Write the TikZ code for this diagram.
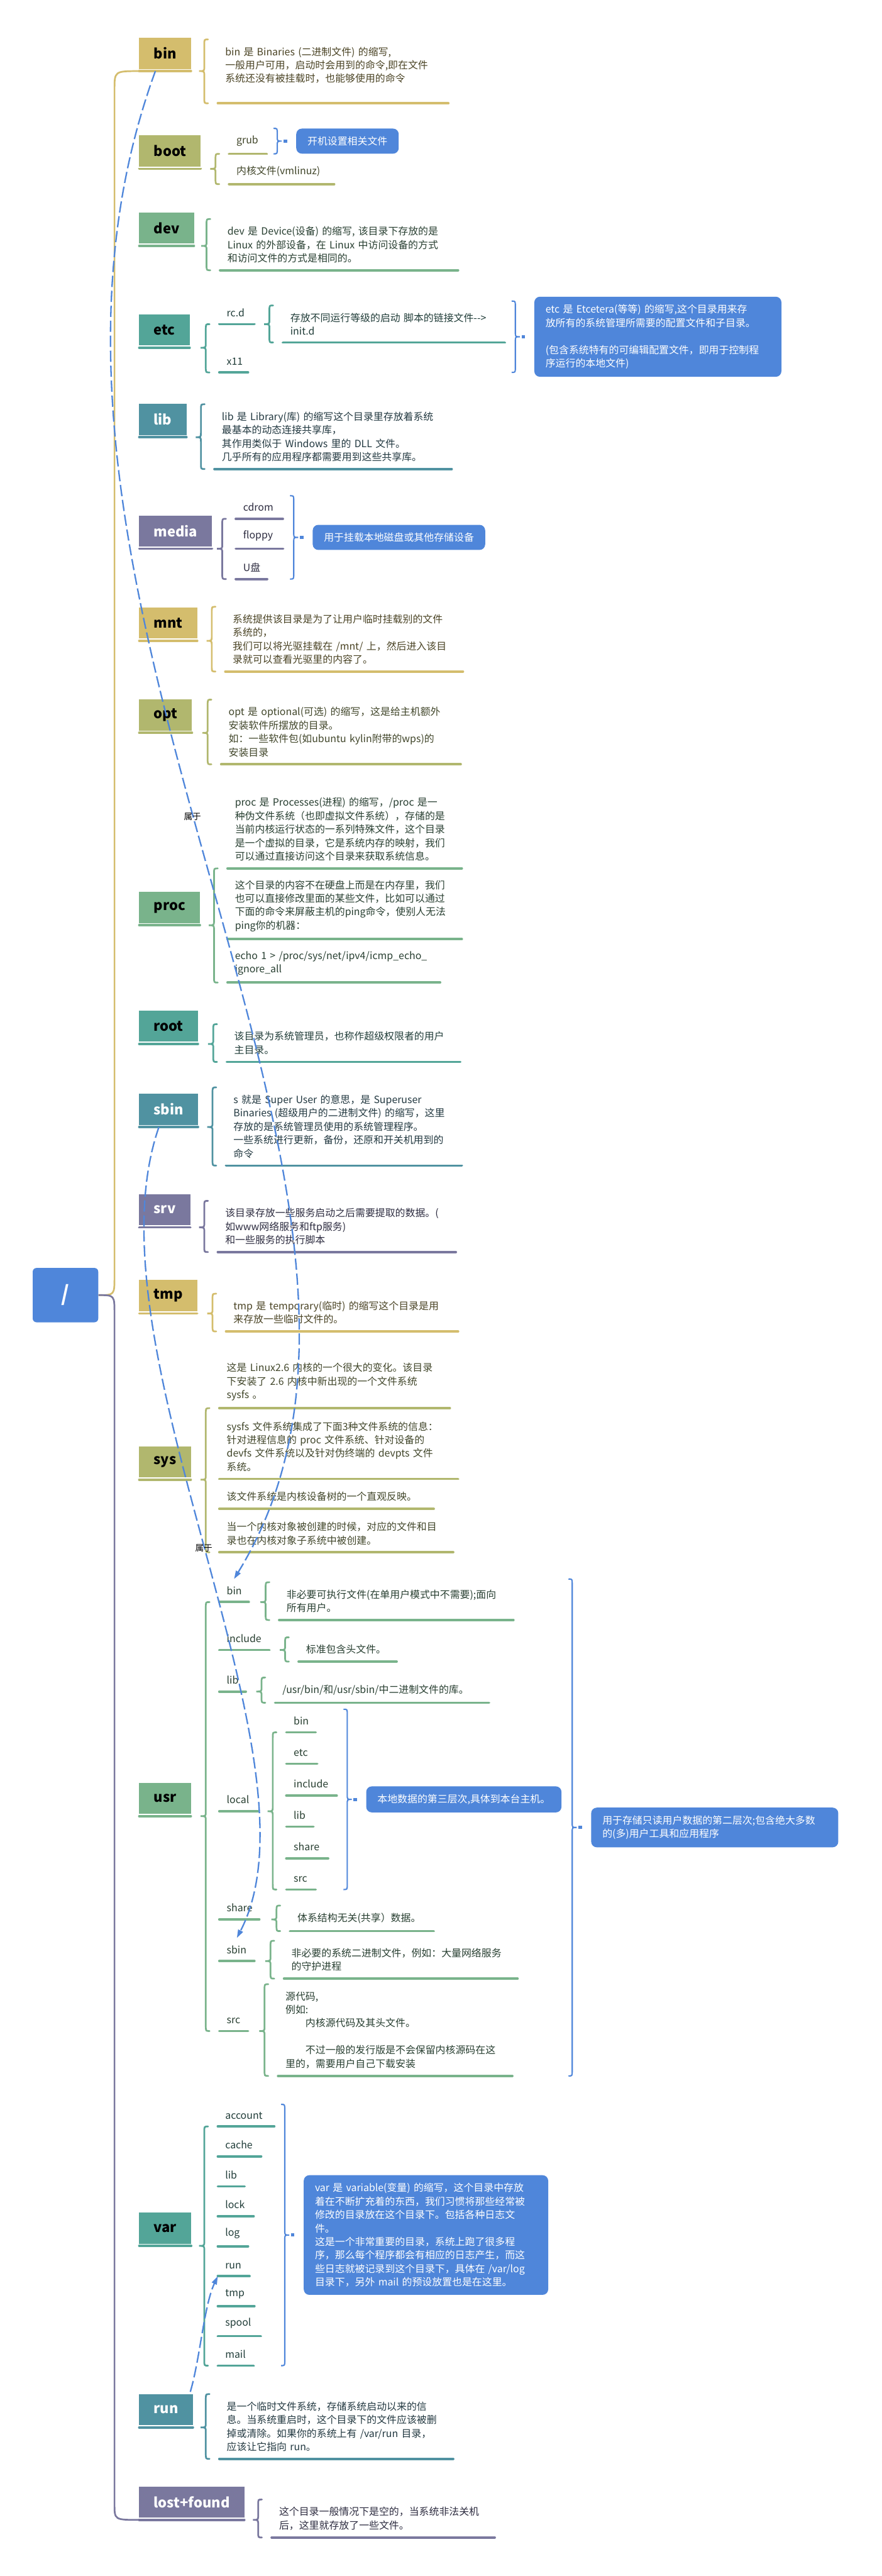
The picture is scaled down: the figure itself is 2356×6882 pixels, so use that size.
\documentclass[tikz,border=0pt]{standalone}
\usepackage{fontspec}
\setmainfont{Noto Sans CJK SC}
\usetikzlibrary{positioning,calc,arrows.meta}

\definecolor{cgold}{HTML}{D4BD6D}
\definecolor{colive}{HTML}{B1B76E}
\definecolor{cgreen}{HTML}{79B38B}
\definecolor{cteal}{HTML}{53A598}
\definecolor{cblue}{HTML}{5092A1}
\definecolor{cpurple}{HTML}{7A789E}
\definecolor{tgold}{HTML}{4A4324}
\definecolor{tolive}{HTML}{41462A}
\definecolor{tgreen}{HTML}{283F31}
\definecolor{tteal}{HTML}{213D39}
\definecolor{tblue}{HTML}{233941}
\definecolor{tpurple}{HTML}{2D2C40}
\definecolor{sumblue}{HTML}{4F86DA}

% left brace from a directory to its entries
\newcommand{\dirbrace}[4]{%
  \coordinate (bt) at ($(#3)+(-26,0)$);
  \coordinate (bb) at ($(#4)+(-26,0)$);
  \coordinate (bm) at (bt |- #2.south);
  \draw[bracel=#1] (bt) .. controls ($(bt)+(-10,0)$) .. ($(bt)+(-10,14)$)
    -- ($(bm)+(-10,-12)$) .. controls ($(bm)+(-10,0)$) .. ($(bm)+(-24,0)$)
    .. controls ($(bm)+(-10,0)$) .. ($(bm)+(-10,12)$)
    -- ($(bb)+(-10,-14)$) .. controls ($(bb)+(-10,0)$) .. (bb);
}

% blue summary brace with its note
\newcommand{\sumnote}[6]{%
  \coordinate (sx) at ($(#3)+(18,0)$);
  \coordinate (st) at (sx |- #1.north);
  \coordinate (sb) at (sx |- #2.south);
  \coordinate (sm) at ($(st)!0.5!(sb)$);
  \draw[sumline] (st) .. controls ($(st)+(10,0)$) .. ($(st)+(10,14)$)
    -- ($(sm)+(10,-12)$) .. controls ($(sm)+(10,0)$) .. ($(sm)+(22,0)$)
    .. controls ($(sm)+(10,0)$) .. ($(sm)+(10,12)$)
    -- ($(sb)+(10,-14)$) .. controls ($(sb)+(10,0)$) .. (sb);
  \fill[sumblue] ($(sm)+(27,-4)$) rectangle ++(9,8);
  \node[sumbox, #5] (#4) at ($(sm)+(60,0)$) {#6};
}

\begin{document}
\begin{tikzpicture}[x=0.01cm, y=-0.01cm,
    dirbox/.style={anchor=south west, fill=c#1, minimum height=0.83cm, inner xsep=0.39cm, inner ysep=0pt,
        outer xsep=0pt, outer ysep=0.06cm, font=\fontsize{10.5}{12}\selectfont\bfseries,
        append after command={(\tikzlastnode.south west) edge[barline=#1] (\tikzlastnode.south east)}},
    leaf/.style={anchor=south west, align=left, inner xsep=0.2cm, inner ysep=0.2cm, outer sep=0pt,
        text=t#1, font=\fontsize{7.6}{10.24}\selectfont,
        append after command={(\tikzlastnode.south west) edge[barline=#1] (\tikzlastnode.south east)}},
    barline/.style={draw=c#1, line width=1.8pt, line cap=round},
    bracel/.style={draw=c#1, line width=1.3pt, line cap=round},
    trunk/.style={draw=c#1, line width=1.3pt},
    sumline/.style={draw=sumblue, line width=1pt},
    sumbox/.style={anchor=west, fill=sumblue, rounded corners=0.15cm, text=white, align=left,
        inner xsep=0.3cm, inner ysep=0.21cm, font=\fontsize{7.6}{10.24}\selectfont},
    rel/.style={draw=sumblue, line width=1.1pt, dash pattern=on 0.3cm off 0.1cm,
        -{Triangle[length=0.22cm,width=0.14cm]}},
    rellabel/.style={font=\fontsize{6.5}{7}\selectfont, text=black},
    light/.style={text=white}
]
\useasboundingbox (0,0) rectangle (2356,6882);

% root
\node[fill=sumblue, text=white, rounded corners=0.1cm, minimum width=1.75cm, minimum height=1.45cm,
    font=\fontsize{16}{18}\selectfont\bfseries] (top) at (175,3460) {/};

% directories
\node[dirbox=gold] (bin) at (372,190) {bin};
\node[dirbox=olive] (boot) at (372,451) {boot};
\node[dirbox=green] (dev) at (372,657) {dev};
\node[dirbox=teal] (etc) at (372,929) {etc};
\node[dirbox=blue, light] (lib) at (372,1168) {lib};
\node[dirbox=purple, light] (media) at (372,1466) {media};
\node[dirbox=gold] (mnt) at (372,1712) {mnt};
\node[dirbox=olive] (opt) at (372,1958) {opt};
\node[dirbox=green] (proc) at (372,2472) {proc};
\node[dirbox=teal] (root) at (372,2789) {root};
\node[dirbox=blue, light] (sbin) at (372,3011) {sbin};
\node[dirbox=purple, light] (srv) at (372,3279) {srv};
\node[dirbox=gold] (tmp) at (372,3509) {tmp};
\node[dirbox=olive] (sys) at (372,3953) {sys};
\node[dirbox=green] (usr) at (372,4852) {usr};
\node[dirbox=teal] (var) at (372,6000) {var};
\node[dirbox=blue, light] (run) at (372,6485) {run};
\node[dirbox=purple, light] (lostfound) at (372,6732) {lost+found};

% trunk
\draw[trunk=gold] (bin.south west) .. controls (306,190) .. (306,240) -- (306,3410) .. controls (306,3460) .. (top.east);
\draw[trunk=purple] (top.east) .. controls (306,3460) .. (306,3510) -- (306,6690) .. controls (306,6732) .. (lostfound.south west);

% bin
\node[leaf=gold, text width=5.76cm] (binA) at (582,276) {bin 是 Binaries (二进制文件) 的缩写,\\一般用户可用，启动时会用到的命令,即在文件\\系统还没有被挂载时，也能够使用的命令\\\mbox{}};
\dirbrace{gold}{bin}{binA.north west}{binA.south west}

% boot
\node[leaf=olive, text width=0.61cm] (bootA) at (612,411) {grub};
\node[leaf=olive, text width=2.41cm] (bootB) at (612,492) {内核文件(vmlinuz)};
\dirbrace{olive}{boot}{bootA.south west}{bootB.south west}
\sumnote{bootA}{bootA}{bootA.east}{bootS}{}{开机设置相关文件}

% dev
\node[leaf=green, text width=5.96cm] (devA) at (588,722) {dev 是 Device(设备) 的缩写, 该目录下存放的是\\Linux 的外部设备，在 Linux 中访问设备的方式\\和访问文件的方式是相同的。};
\dirbrace{green}{dev}{devA.north west}{devA.south west}

% etc
\node[leaf=teal, text width=0.54cm] (etcA) at (586,866) {rc.d};
\node[leaf=teal, text width=0.37cm] (etcB) at (586,995) {x11};
\node[leaf=teal, text width=5.53cm] (rcdA) at (756,915) {存放不同运行等级的启动 脚本的链接文件-{}-{}>\\init.d};
\dirbrace{teal}{etc}{etcA.south west}{etcB.south west}
\dirbrace{teal}{etcA}{rcdA.north west}{rcdA.south west}
\sumnote{etcA}{etcB}{rcdA.east}{etcS}{text width=6.0cm}{etc 是 Etcetera(等等) 的缩写,这个目录用来存\\放所有的系统管理所需要的配置文件和子目录。\\\mbox{}\\(包含系统特有的可编辑配置文件，即用于控制程\\序运行的本地文件)}

% lib
\node[leaf=blue, text width=5.94cm] (libA) at (573,1253) {lib 是 Library(库) 的缩写这个目录里存放着系统\\最基本的动态连接共享库，\\其作用类似于 Windows 里的 DLL 文件。\\几乎所有的应用程序都需要用到这些共享库。};
\dirbrace{blue}{lib}{libA.north west}{libA.south west}

% media
\node[leaf=purple, text width=0.86cm] (mediaA) at (630,1386) {cdrom};
\node[leaf=purple, text width=0.87cm] (mediaB) at (630,1466) {floppy};
\node[leaf=purple, text width=0.44cm] (mediaC) at (630,1547) {U盘};
\dirbrace{purple}{media}{mediaA.south west}{mediaC.south west}
\sumnote{mediaA}{mediaC}{mediaB.east}{mediaS}{}{用于挂载本地磁盘或其他存储设备}

% mnt
\node[leaf=gold, text width=5.95cm] (mntA) at (602,1794) {系统提供该目录是为了让用户临时挂载别的文件\\系统的，\\我们可以将光驱挂载在 /mnt/ 上，然后进入该目\\录就可以查看光驱里的内容了。};
\dirbrace{gold}{mnt}{mntA.north west}{mntA.south west}

% opt
\node[leaf=olive, text width=6.0cm] (optA) at (591,2042) {opt 是 optional(可选) 的缩写，这是给主机额外\\安装软件所摆放的目录。\\如：一些软件包(如ubuntu kylin附带的wps)的\\安装目录};
\dirbrace{olive}{opt}{optA.north west}{optA.south west}

% proc
\node[leaf=green, text width=5.86cm] (procA) at (608,2320) {proc 是 Processes(进程) 的缩写，/proc 是一\\种伪文件系统（也即虚拟文件系统），存储的是\\当前内核运行状态的一系列特殊文件，这个目录\\是一个虚拟的目录，它是系统内存的映射，我们\\可以通过直接访问这个目录来获取系统信息。};
\node[leaf=green, text width=5.86cm] (procB) at (608,2509) {这个目录的内容不在硬盘上而是在内存里，我们\\也可以直接修改里面的某些文件，比如可以通过\\下面的命令来屏蔽主机的ping命令，使别人无法\\ping你的机器：};
\node[leaf=green, text width=5.28cm] (procC) at (608,2625) {echo 1 > /proc/sys/net/ipv4/icmp\_echo\_\\ignore\_all};
\dirbrace{green}{proc}{procA.south west}{procC.south west}

% root
\node[leaf=teal, text width=5.84cm] (rootA) at (606,2837) {该目录为系统管理员，也称作超级权限者的用户\\主目录。};
\dirbrace{teal}{root}{rootA.north west}{rootA.south west}

% sbin
\node[leaf=blue, text width=5.9cm] (sbinA) at (604,3114) {s 就是 Super User 的意思，是 Superuser\\Binaries (超级用户的二进制文件) 的缩写，这里\\存放的是系统管理员使用的系统管理程序。\\一些系统进行更新，备份，还原和开关机用到的\\命令};
\dirbrace{blue}{sbin}{sbinA.north west}{sbinA.south west}

% srv
\node[leaf=purple, text width=5.96cm] (srvA) at (582,3345) {该目录存放一些服务启动之后需要提取的数据。(\\如www网络服务和ftp服务)\\和一些服务的执行脚本};
\dirbrace{purple}{srv}{srvA.north west}{srvA.south west}

% tmp
\node[leaf=gold, text width=5.8cm] (tmpA) at (604,3557) {tmp 是 temporary(临时) 的缩写这个目录是用\\来存放一些临时文件的。};
\dirbrace{gold}{tmp}{tmpA.north west}{tmpA.south west}

% sys
\node[leaf=olive, text width=5.76cm] (sysA) at (586,3762) {这是 Linux2.6 内核的一个很大的变化。该目录\\下安装了 2.6 内核中新出现的一个文件系统\\sysfs 。};
\node[leaf=olive, text width=5.98cm] (sysB) at (586,3951) {sysfs 文件系统集成了下面3种文件系统的信息：\\针对进程信息的 proc 文件系统、针对设备的\\devfs 文件系统以及针对伪终端的 devpts 文件\\系统。};
\node[leaf=olive, text width=5.33cm] (sysC) at (586,4031) {该文件系统是内核设备树的一个直观反映。};
\node[leaf=olive, text width=5.85cm] (sysD) at (586,4147) {当一个内核对象被创建的时候，对应的文件和目\\录也在内核对象子系统中被创建。};
\dirbrace{olive}{sys}{sysA.south west}{sysD.south west}

% usr
\node[leaf=green, text width=0.39cm] (usrA) at (586,4280) {bin};
\node[leaf=green, text width=5.86cm] (usrAA) at (746,4328) {非必要可执行文件(在单用户模式中不需要);面向\\所有用户。};
\node[leaf=green, text width=0.94cm] (usrB) at (586,4408) {include};
\node[leaf=green, text width=2.22cm] (usrBA) at (798,4439) {标准包含头文件。};
\node[leaf=green, text width=0.31cm] (usrC) at (586,4519) {lib};
\node[leaf=green, text width=5.32cm] (usrCA) at (735,4549) {/usr/bin/和/usr/sbin/中二进制文件的库。};
\node[leaf=green, text width=0.63cm] (usrD) at (586,4839) {local};
\node[leaf=green, text width=0.39cm] (localA) at (765,4628) {bin};
\node[leaf=green, text width=0.43cm] (localB) at (765,4712) {etc};
\node[leaf=green, text width=0.95cm] (localC) at (765,4797) {include};
\node[leaf=green, text width=0.33cm] (localD) at (765,4880) {lib};
\node[leaf=green, text width=0.72cm] (localE) at (765,4965) {share};
\node[leaf=green, text width=0.39cm] (localF) at (765,5048) {src};
\node[leaf=green, text width=0.67cm] (usrE) at (586,5128) {share};
\node[leaf=green, text width=3.44cm] (usrEA) at (775,5159) {体系结构无关(共享）数据。};
\node[leaf=green, text width=0.54cm] (usrF) at (586,5239) {sbin};
\node[leaf=green, text width=5.84cm] (usrFA) at (759,5286) {非必要的系统二进制文件，例如：大量网络服务\\的守护进程};
\node[leaf=green, text width=0.37cm] (usrG) at (586,5426) {src};
\node[leaf=green, text width=5.86cm] (usrGA) at (743,5546) {源代码,\\例如:\\\hspace*{2em}内核源代码及其头文件。\\\mbox{}\\\hspace*{2em}不过一般的发行版是不会保留内核源码在这\\里的，需要用户自己下载安装};
\dirbrace{green}{usr}{usrA.south west}{usrG.south west}
\dirbrace{green}{usrA}{usrAA.north west}{usrAA.south west}
\dirbrace{green}{usrB}{usrBA.north west}{usrBA.south west}
\dirbrace{green}{usrC}{usrCA.north west}{usrCA.south west}
\dirbrace{green}{usrD}{localA.south west}{localF.south west}
\dirbrace{green}{usrE}{usrEA.north west}{usrEA.south west}
\dirbrace{green}{usrF}{usrFA.north west}{usrFA.south west}
\dirbrace{green}{usrG}{usrGA.north west}{usrGA.south west}
\sumnote{localA}{localF}{localC.east}{localS}{}{本地数据的第三层次,具体到本台主机。}
\sumnote{usrA}{usrGA}{localS.east}{usrS}{text width=6.0cm}{用于存储只读用户数据的第二层次;包含绝大多数\\的(多)用户工具和应用程序}

% var
\node[leaf=teal, text width=1.11cm] (varA) at (582,5681) {account};
\node[leaf=teal, text width=0.76cm] (varB) at (582,5761) {cache};
\node[leaf=teal, text width=0.32cm] (varC) at (582,5841) {lib};
\node[leaf=teal, text width=0.56cm] (varD) at (582,5921) {lock};
\node[leaf=teal, text width=0.41cm] (varE) at (582,6001) {log};
\node[leaf=teal, text width=0.45cm] (varF) at (582,6081) {run};
\node[leaf=teal, text width=0.58cm] (varG) at (582,6161) {tmp};
\node[leaf=teal, text width=0.75cm] (varH) at (582,6241) {spool};
\node[leaf=teal, text width=0.56cm] (varI) at (582,6320) {mail};
\dirbrace{teal}{var}{varA.south west}{varI.south west}
\sumnote{varA}{varI}{varA.east}{varS}{text width=5.93cm}{var 是 variable(变量) 的缩写，这个目录中存放\\着在不断扩充着的东西，我们习惯将那些经常被\\修改的目录放在这个目录下。包括各种日志文\\件。\\这是一个非常重要的目录，系统上跑了很多程\\序，那么每个程序都会有相应的日志产生，而这\\些日志就被记录到这个目录下，具体在 /var/log\\目录下，另外 mail 的预设放置也是在这里。}

% run
\node[leaf=blue, text width=5.85cm] (runA) at (586,6569) {是一个临时文件系统，存储系统启动以来的信\\息。当系统重启时，这个目录下的文件应该被删\\掉或清除。如果你的系统上有 /var/run 目录，\\应该让它指向 run。};
\dirbrace{blue}{run}{runA.north west}{runA.south west}

% lost+found
\node[leaf=purple, text width=5.56cm] (lfA) at (726,6779) {这个目录一般情况下是空的，当系统非法关机\\后，这里就存放了一些文件。};
\dirbrace{purple}{lostfound}{lfA.north west}{lfA.south west}

% relations
\draw[rel] ([xshift=-0.26cm]bin.south) .. controls (-100,1600) and (1250,3200) .. (usrA.north) node[rellabel, pos=0.46] {属于};
\draw[rel] ([xshift=-0.26cm]sbin.south) .. controls (220,3600) and (880,4700) .. (usrF.north) node[rellabel, pos=0.5] {属于};
\draw[rel] ([xshift=-0.07cm]run.north east) .. controls (535,6300) and (545,6160) .. (varF.south west);

\end{tikzpicture}
\end{document}
